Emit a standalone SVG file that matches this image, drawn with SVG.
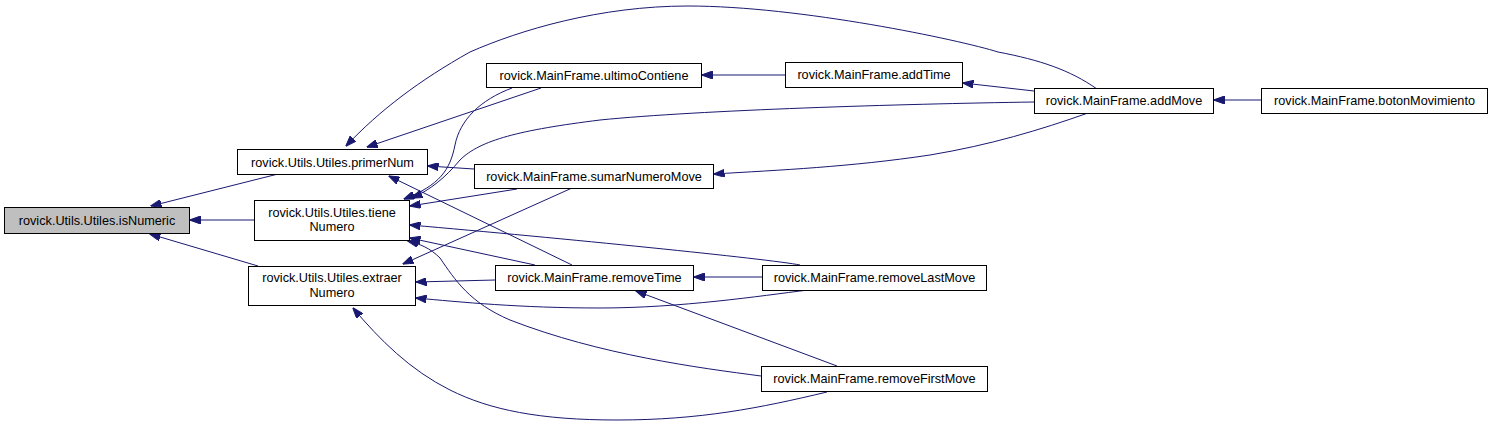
<svg xmlns="http://www.w3.org/2000/svg" width="1492" height="425" viewBox="0 0 1492 425">
<defs>
<marker id="ah" markerWidth="11" markerHeight="8" refX="10.5" refY="4" orient="auto" markerUnits="userSpaceOnUse">
<path d="M0,0 L11,4 L0,8 z" fill="#191970" stroke="#191970" stroke-width="1"/>
</marker>
<style>
.n rect{fill:#ffffff;stroke:#000000;stroke-width:1}
.n.h rect{fill:#bfbfbf}
.n text{font-family:"Liberation Sans",Arial,sans-serif;font-size:12.7px;fill:#000000;text-anchor:middle}
#edges path{fill:none;stroke:#191970;stroke-width:1;marker-end:url(#ah)}
</style>
</defs>
<rect width="1492" height="425" fill="#ffffff"/>
<g id="edges">
<path d="M278,174 L151,206"/>
<path d="M254,220 L190,220"/>
<path d="M258,266 L150,234"/>
<path d="M474,169 L428,166"/>
<path d="M572,265 L389,176"/>
<path d="M541,88 L367,147"/>
<path d="M1097,89 C1070,70 1040,60 998,52 C960,40 800,6 688,6 C600,6 520,30 470,52 C420,80 380,110 346,146"/>
<path d="M512,88 C480,100 460,120 455,145 C450,170 440,185 404,199"/>
<path d="M1034,102 C900,104 700,110 600,120 C520,130 480,140 460,160 C445,178 430,190 412,198"/>
<path d="M517,189 L410,206"/>
<path d="M800,265 C770,259 560,238 410,225"/>
<path d="M535,265 L410,238"/>
<path d="M761,376 C700,368 600,355 510,320 C470,303 455,280 440,258 C430,248 420,244 408,241"/>
<path d="M572,188 L403,264"/>
<path d="M495,280 L416,282"/>
<path d="M808,290 C760,296 680,308 600,308 C520,308 460,302 416,298"/>
<path d="M827,392 C760,408 700,420 617,420 C540,420 490,410 450,390 C410,370 380,340 353,308"/>
<path d="M762,277 L694,277"/>
<path d="M837,366 L636,291"/>
<path d="M785,75 L702,75"/>
<path d="M1034,91 L963,83"/>
<path d="M1088,113 C1040,130 990,145 930,155 C850,167 780,170 714,174"/>
<path d="M1261,100 L1214,100"/>
</g>
<g id="isNumeric" class="n h"><rect x="4.5" y="207.5" width="185" height="26"/><text x="97" y="225">rovick.Utils.Utiles.isNumeric</text></g>
<g id="primerNum" class="n"><rect x="237.5" y="149.5" width="190" height="25"/><text x="332.5" y="166.5">rovick.Utils.Utiles.primerNum</text></g>
<g id="tieneNumero" class="n"><rect x="254.5" y="200.5" width="155" height="40"/><text x="332" y="216.5">rovick.Utils.Utiles.tiene</text><text x="332" y="231">Numero</text></g>
<g id="extraerNumero" class="n"><rect x="248.5" y="266.5" width="167" height="39"/><text x="332" y="282">rovick.Utils.Utiles.extraer</text><text x="332" y="296.5">Numero</text></g>
<g id="ultimoContiene" class="n"><rect x="486.5" y="63.5" width="215" height="24"/><text x="594" y="80">rovick.MainFrame.ultimoContiene</text></g>
<g id="sumarNumeroMove" class="n"><rect x="474.5" y="164.5" width="239" height="24"/><text x="594" y="181">rovick.MainFrame.sumarNumeroMove</text></g>
<g id="removeTime" class="n"><rect x="495.5" y="265.5" width="198" height="25"/><text x="594.5" y="282">rovick.MainFrame.removeTime</text></g>
<g id="addTime" class="n"><rect x="785.5" y="62.5" width="177" height="25"/><text x="874" y="79">rovick.MainFrame.addTime</text></g>
<g id="removeLastMove" class="n"><rect x="762.5" y="265.5" width="224" height="25"/><text x="874.5" y="282">rovick.MainFrame.removeLastMove</text></g>
<g id="removeFirstMove" class="n"><rect x="761.5" y="366.5" width="226" height="25"/><text x="874.5" y="383">rovick.MainFrame.removeFirstMove</text></g>
<g id="addMove" class="n"><rect x="1034.5" y="88.5" width="179" height="25"/><text x="1124" y="105">rovick.MainFrame.addMove</text></g>
<g id="botonMovimiento" class="n"><rect x="1261.5" y="88.5" width="226" height="25"/><text x="1374.5" y="105">rovick.MainFrame.botonMovimiento</text></g>
</svg>
